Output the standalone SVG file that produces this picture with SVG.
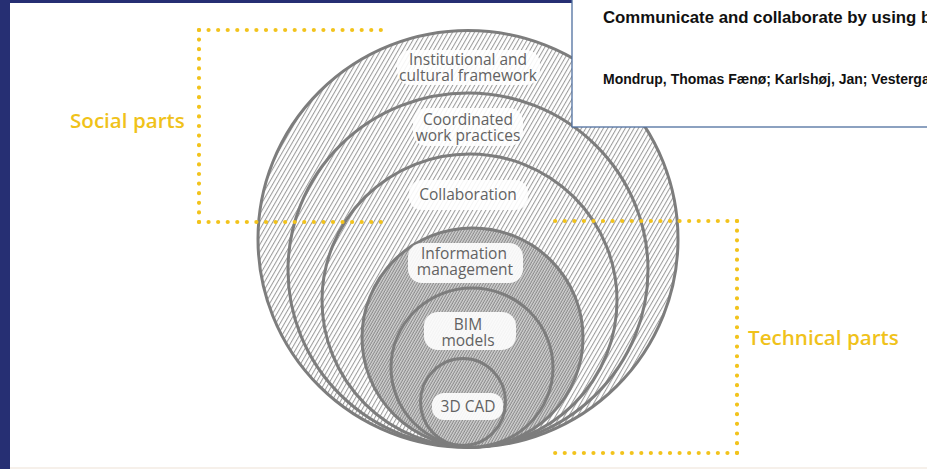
<svg xmlns="http://www.w3.org/2000/svg" width="927" height="469" viewBox="0 0 927 469">
  <defs>
    <!-- light diagonal hatch for the outer (social) rings -->
    <pattern id="hatchLight" patternUnits="userSpaceOnUse" width="3.8" height="10" patternTransform="rotate(30)">
      <rect width="3.8" height="10" fill="#ffffff"/>
      <line x1="1.5" y1="0" x2="1.5" y2="10" stroke="#8a8a8a" stroke-width="0.9"/>
    </pattern>
    <!-- dense diagonal hatch for the inner (technical) circles -->
    <pattern id="hatchDense" patternUnits="userSpaceOnUse" width="2.4" height="10" patternTransform="rotate(30)">
      <rect width="2.4" height="10" fill="#d3d3d3"/>
      <line x1="1" y1="0" x2="1" y2="10" stroke="#7a7a7a" stroke-width="0.9"/>
    </pattern>
    <clipPath id="boxClip">
      <rect x="572" y="0" width="355" height="127"/>
    </clipPath>
  </defs>
  <style>
    .ring { stroke: #7d7d7d; stroke-width: 3; }
    .light { fill: url(#hatchLight); }
    .dense { fill: url(#hatchDense); }
    .pill { fill: #ffffff; fill-opacity: 0.9; }
    .lbl { font-family: "Open Sans", "Noto Sans", "DejaVu Sans", sans-serif; font-size: 15.5px; fill: #626262; text-anchor: middle; }
    .dots { fill: none; stroke: #f2c31c; stroke-width: 4.2; stroke-linecap: round; }
    .side { font-family: "Open Sans", "Noto Sans", sans-serif; font-weight: 600; font-size: 20.6px; fill: #f0c21a; }
    .cite { font-family: "Liberation Sans", Arial, sans-serif; font-weight: bold; fill: #111111; }
  </style>

  <!-- page background and navy frame -->
  <rect x="0" y="0" width="927" height="469" fill="#ffffff"/>
  <rect x="0" y="0" width="10" height="469" fill="#262f73"/>
  <rect x="0" y="0" width="572" height="3" fill="#262f73"/>
  <rect x="10" y="467" width="917" height="2" fill="#f6f0ea"/>

  <!-- nested layers, outermost first -->
  <g id="institutional-framework">
    <ellipse class="ring light" cx="468" cy="239" rx="210" ry="208.5"/>
    <rect class="pill" x="397" y="50" width="143" height="35" rx="14"/>
    <text class="lbl" x="468" y="65">Institutional and<tspan x="468" dy="16">cultural framework</tspan></text>
  </g>
  <g id="coordinated-work-practices">
    <ellipse class="ring light" cx="468" cy="270" rx="180" ry="177"/>
    <rect class="pill" x="413" y="108" width="110" height="38" rx="14"/>
    <text class="lbl" x="468" y="125">Coordinated<tspan x="468" dy="16">work practices</tspan></text>
  </g>
  <g id="collaboration">
    <ellipse class="ring light" cx="469.5" cy="300.5" rx="147.5" ry="146.5"/>
    <rect class="pill" x="409" y="180" width="119" height="30" rx="13"/>
    <text class="lbl" x="468" y="200">Collaboration</text>
  </g>
  <g id="information-management">
    <ellipse class="ring dense" cx="472.5" cy="337.5" rx="110.5" ry="109.5"/>
    <rect class="pill" x="408" y="243" width="115" height="40" rx="14"/>
    <text class="lbl" x="464" y="259">Information<tspan x="465" dy="16">management</tspan></text>
  </g>
  <g id="bim-models">
    <ellipse class="ring dense" cx="472" cy="367.5" rx="81" ry="79.5"/>
    <rect class="pill" x="424" y="312" width="92" height="38" rx="14"/>
    <text class="lbl" x="468" y="330">BIM<tspan x="468" dy="16">models</tspan></text>
  </g>
  <g id="cad-3d">
    <ellipse class="ring dense" cx="463" cy="402" rx="42.5" ry="43.5"/>
    <rect class="pill" x="432" y="393" width="71" height="27" rx="12"/>
    <text class="lbl" x="468" y="412">3D CAD</text>
  </g>

  <!-- dotted brackets grouping the layers -->
  <g id="connectors">
    <line class="dots" x1="199" y1="30" x2="381.5" y2="30" stroke-dasharray="0 9.57"/>
    <line class="dots" x1="199" y1="30" x2="199" y2="222.5" stroke-dasharray="0 9.6"/>
    <line class="dots" x1="199" y1="222" x2="381.5" y2="222" stroke-dasharray="0 9.57"/>
    <line class="dots" x1="737" y1="221" x2="554.5" y2="221" stroke-dasharray="0 9.57"/>
    <line class="dots" x1="737" y1="221" x2="737" y2="453.5" stroke-dasharray="0 9.66"/>
    <line class="dots" x1="737" y1="453" x2="554.5" y2="453" stroke-dasharray="0 9.57"/>
  </g>

  <g id="social-parts">
    <text class="side" x="70" y="128">Social parts</text>
  </g>
  <g id="technical-parts">
    <text class="side" x="748" y="345">Technical parts</text>
  </g>

  <!-- citation box overlapping the top right corner -->
  <g id="citation">
    <rect x="572" y="-2" width="360" height="129" fill="#ffffff" stroke="#4f6f9f" stroke-width="1.3"/>
    <g clip-path="url(#boxClip)">
      <text class="cite" x="603" y="23" font-size="16.8">Communicate and collaborate by using b</text>
      <text class="cite" x="603" y="84" font-size="14">Mondrup, Thomas Fænø; Karlshøj, Jan; Vesterga</text>
    </g>
  </g>
</svg>
